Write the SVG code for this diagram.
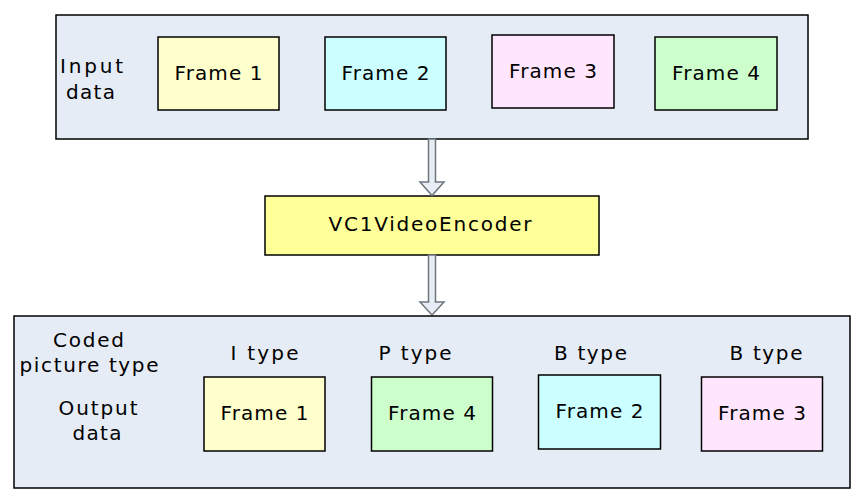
<svg xmlns="http://www.w3.org/2000/svg" width="865" height="503" viewBox="0 0 865 503">
<style>
text{font-family:"DejaVu Sans","Verdana",sans-serif;font-size:20px;fill:#000;}
.c{text-anchor:middle;}
.box{stroke:#000;stroke-width:1.5;}
.cont{fill:#e6ecf6;stroke:#000;stroke-width:1.5;}
.y{fill:#ffffcc;}
.cy{fill:#ccffff;}
.pk{fill:#ffe6fe;}
.g{fill:#ccffcc;}
.arr{fill:#e8edf5;stroke:#6e767e;stroke-width:1.5;}
</style>
<rect width="865" height="503" fill="#fff"/>
<g id="input-container">
<rect class="cont" x="56" y="15" width="752" height="124"/>
<text x="60" y="73" textLength="63" lengthAdjust="spacing">Input</text>
<text x="66" y="99" textLength="49" lengthAdjust="spacing">data</text>
</g>
<g id="in-frame1"><rect class="box y" x="158" y="37" width="121" height="73"/><text class="c" x="218.5" y="80" textLength="88" lengthAdjust="spacing">Frame 1</text></g>
<g id="in-frame2"><rect class="box cy" x="325" y="37" width="121" height="73"/><text class="c" x="385.5" y="80" textLength="88" lengthAdjust="spacing">Frame 2</text></g>
<g id="in-frame3"><rect class="box pk" x="492" y="35" width="122" height="73"/><text class="c" x="553" y="78" textLength="88" lengthAdjust="spacing">Frame 3</text></g>
<g id="in-frame4"><rect class="box g" x="655" y="37" width="122" height="73"/><text class="c" x="716" y="80" textLength="88" lengthAdjust="spacing">Frame 4</text></g>
<g id="encoder"><rect class="box" fill="#ffff99" x="265" y="196" width="334" height="59"/><text class="c" x="430" y="231" textLength="203" lengthAdjust="spacing">VC1VideoEncoder</text></g>
<g id="connectors">
<path class="arr" d="M428.5,139 V182 H420 L432,195.5 L444,182 H435.5 V139 Z"/>
<path class="arr" d="M428.5,255 V302 H420 L432,315 L444,302 H435.5 V255 Z"/>
</g>
<g id="output-container">
<rect class="cont" x="14" y="316" width="836" height="172"/>
<text class="c" x="88.5" y="347" textLength="71" lengthAdjust="spacing">Coded</text>
<text class="c" x="89" y="372" textLength="139" lengthAdjust="spacing">picture type</text>
<text class="c" x="98" y="415" textLength="79" lengthAdjust="spacing">Output</text>
<text class="c" x="97" y="440" textLength="49" lengthAdjust="spacing">data</text>
<text class="c" x="264.5" y="360" textLength="68" lengthAdjust="spacing">I type</text>
<text class="c" x="415" y="360" textLength="73" lengthAdjust="spacing">P type</text>
<text class="c" x="590.5" y="360" textLength="73" lengthAdjust="spacing">B type</text>
<text class="c" x="766" y="360" textLength="73" lengthAdjust="spacing">B type</text>
</g>
<g id="out-frame1"><rect class="box y" x="204" y="377" width="121" height="74"/><text class="c" x="264.5" y="420" textLength="88" lengthAdjust="spacing">Frame 1</text></g>
<g id="out-frame4"><rect class="box g" x="371.5" y="377" width="121" height="74"/><text class="c" x="432" y="420" textLength="88" lengthAdjust="spacing">Frame 4</text></g>
<g id="out-frame2"><rect class="box cy" x="538.5" y="375" width="122" height="74"/><text class="c" x="599.5" y="418" textLength="88" lengthAdjust="spacing">Frame 2</text></g>
<g id="out-frame3"><rect class="box pk" x="701.5" y="377" width="121" height="74"/><text class="c" x="762" y="420" textLength="88" lengthAdjust="spacing">Frame 3</text></g>
</svg>
